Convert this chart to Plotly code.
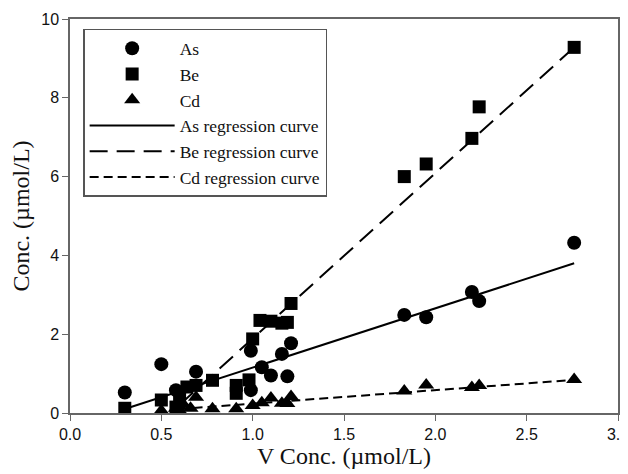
import plotly.graph_objects as go

# V concentration (x) and metal concentrations (y), µmol/L
as_x = [0.30, 0.50, 0.58, 0.60, 0.69, 0.99, 0.99, 1.05, 1.10, 1.16, 1.19, 1.21, 1.83, 1.95, 2.20, 2.24, 2.76]
as_y = [0.52, 1.24, 0.58, 0.22, 1.05, 1.58, 0.58, 1.16, 0.95, 1.50, 0.93, 1.77, 2.49, 2.43, 3.07, 2.84, 4.32]

be_x = [0.30, 0.50, 0.58, 0.60, 0.64, 0.69, 0.78, 0.91, 0.91, 0.98, 1.00, 1.04, 1.10, 1.16, 1.19, 1.21, 1.83, 1.95, 2.20, 2.24, 2.76]
be_y = [0.12, 0.33, 0.15, 0.35, 0.66, 0.70, 0.83, 0.50, 0.70, 0.84, 1.88, 2.35, 2.33, 2.28, 2.30, 2.78, 6.00, 6.32, 6.97, 7.77, 9.28]

cd_x = [0.50, 0.58, 0.60, 0.62, 0.66, 0.69, 0.78, 0.91, 1.00, 1.05, 1.10, 1.16, 1.19, 1.21, 1.83, 1.95, 2.20, 2.24, 2.76]
cd_y = [0.06, 0.12, 0.06, 0.22, 0.12, 0.40, 0.11, 0.11, 0.19, 0.26, 0.38, 0.25, 0.24, 0.42, 0.56, 0.71, 0.65, 0.70, 0.85]

# regression curve end points
as_fit_x = [0.30, 2.76]
as_fit_y = [0.10, 3.80]
be_fit_x = [0.60, 2.76]
be_fit_y = [0.21, 9.28]
cd_fit_x = [0.60, 2.76]
cd_fit_y = [0.10, 0.84]

series_names = ["As", "Be", "Cd"]
fit_names = ["As regression curve", "Be regression curve", "Cd regression curve"]

fig = go.Figure()
fig.add_trace(go.Scatter(x=as_x, y=as_y, mode="markers", name=series_names[0],
                         marker=dict(symbol="circle", size=14, color="black")))
fig.add_trace(go.Scatter(x=be_x, y=be_y, mode="markers", name=series_names[1],
                         marker=dict(symbol="square", size=13, color="black")))
fig.add_trace(go.Scatter(x=cd_x, y=cd_y, mode="markers", name=series_names[2],
                         marker=dict(symbol="triangle-up", size=14, color="black")))
fig.add_trace(go.Scatter(x=as_fit_x, y=as_fit_y, mode="lines", name=fit_names[0],
                         line=dict(color="black", width=2, dash="solid")))
fig.add_trace(go.Scatter(x=be_fit_x, y=be_fit_y, mode="lines", name=fit_names[1],
                         line=dict(color="black", width=2, dash="18px,9px")))
fig.add_trace(go.Scatter(x=cd_fit_x, y=cd_fit_y, mode="lines", name=fit_names[2],
                         line=dict(color="black", width=2, dash="9px,5px")))

axis_common = dict(
    showline=True, linecolor="#666666", linewidth=1.5, mirror=True,
    ticks="outside", ticklen=6, tickwidth=1.2, tickcolor="#666666",
    showgrid=False, zeroline=False, automargin=False, ticklabeloverflow="allow",
    tickfont=dict(family="Liberation Sans, Arial, sans-serif", size=16, color="#111111"),
)

# page body adds an 8px offset, so the figure is sized 8px smaller on each side
fig.update_layout(
    width=620, height=466,
    margin=dict(l=62, r=10, t=11, b=61),
    paper_bgcolor="white", plot_bgcolor="white",
    xaxis=dict(range=[0, 3], dtick=0.5, tickformat=".1f",
               title=dict(text="V Conc. (µmol/L)", standoff=4,
                          font=dict(family="Liberation Serif, Times New Roman, serif", size=24, color="#111111")),
               **axis_common),
    yaxis=dict(range=[0, 10], dtick=2,
               title=dict(text="Conc. (µmol/L)", standoff=16,
                          font=dict(family="Liberation Serif, Times New Roman, serif", size=24, color="#111111")),
               **axis_common),
    legend=dict(x=0.024, y=0.975, xanchor="left", yanchor="top",
                bgcolor="white", bordercolor="#555555", borderwidth=1.5,
                font=dict(family="Liberation Serif, Times New Roman, serif", size=17.5, color="#111111"),
                itemwidth=85, tracegroupgap=0),
    showlegend=True,
)

fig.write_html("out.html")
